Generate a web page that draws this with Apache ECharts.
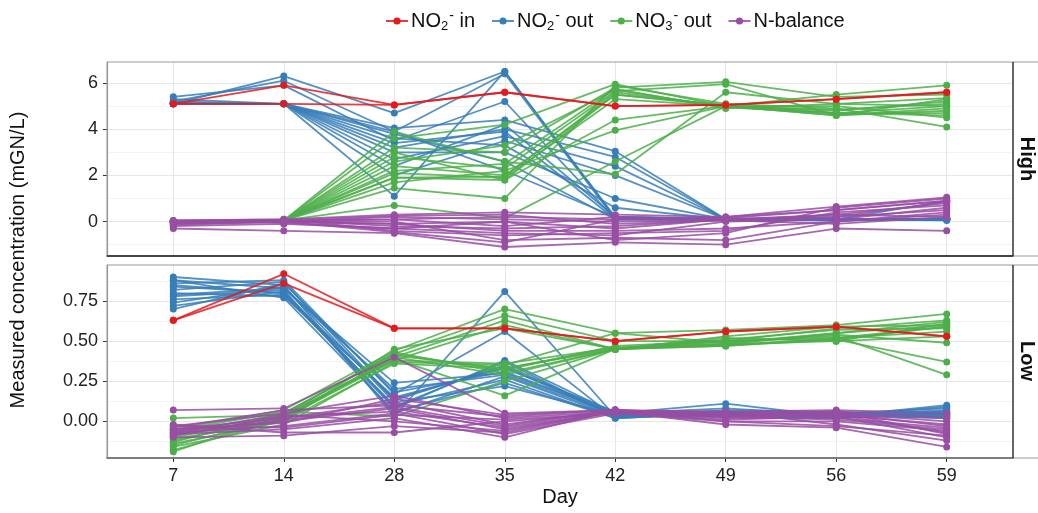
<!DOCTYPE html>
<html>
<head>
<meta charset="utf-8">
<script src="https://cdn.jsdelivr.net/npm/echarts@6/dist/echarts.min.js"></script>
<style>
html, body { margin: 0; padding: 0; background: #fff; }
#chart { width: 1038px; height: 513px; }
</style>
</head>
<body>
<div id="chart"></div>
<script>
// days on the x axis (discrete)
var days = ['7', '14', '28', '35', '42', '49', '56', '59'];
var dayIdx = [0, 1, 2, 3, 4, 5, 6, 7];

// y ticks per facet
var highTicks = [0, 2, 4, 6];
var highMinor = [-1, 1, 3, 5];
var lowTicks = [0, 0.25, 0.5, 0.75];
var lowMinor = [-0.125, 0.125, 0.375, 0.625, 0.875];

// ---- High facet ----
var highIn = [
  [5.1, 5.9, 5.05, 5.6, 5.0, 5.05, 5.3, 5.6],
  [5.1, 5.1, 5.05, 5.6, 5.0, 5.05, 5.3, 5.6]
];
var highNo2Out = [
  [5.1, 6.3, 4.7, 6.5, 0.15, 0.1, 0.1, 0.9],
  [5.2, 6.1, 3.9, 6.4, 0.1, 0.05, 0.05, 0.1],
  [5.4, 5.9, 3.5, 5.2, 0.1, 0.1, 0.1, 0.1],
  [5.1, 5.1, 1.1, 6.5, 0.2, 0.1, 0.1, 0.1],
  [5.1, 5.1, 4.05, 4.4, 3.05, 0.1, 0.1, 0.1],
  [5.15, 5.1, 3.2, 4.0, 2.8, 0.1, 0.1, 0.1],
  [5.1, 5.1, 2.7, 3.7, 2.4, 0.1, 0.1, 0.1],
  [5.2, 5.1, 3.6, 3.3, 0.6, 0.1, 0.1, 0.05],
  [5.1, 5.1, 3.0, 3.0, 1.0, 0.1, 0.1, 0.1],
  [5.1, 5.1, 2.4, 4.2, 0.2, 0.15, 0.1, 0.1],
  [5.3, 5.1, 3.8, 2.6, 0.1, 0.1, 0.1, 0.1],
  [5.1, 5.1, 2.0, 3.5, 2.0, 0.1, 0.1, 0.1],
  [5.1, 5.1, 3.4, 3.9, 0.1, 0.1, 0.1, 0.1],
  [5.1, 5.1, 3.9, 2.2, 0.2, 0.1, 0.05, 0.1]
];
var highNo3Out = [
  [0, 0.05, 3.6, 4.2, 5.95, 5.0, 5.5, 5.9],
  [0, 0.05, 3.2, 3.0, 5.8, 6.05, 5.4, 5.5],
  [0, 0.05, 2.8, 2.3, 5.65, 5.95, 4.6, 5.3],
  [0, 0.05, 2.4, 2.0, 5.5, 5.0, 4.85, 5.1],
  [0, 0.05, 2.1, 1.9, 5.3, 5.0, 4.6, 4.9],
  [0, 0.05, 1.9, 1.8, 4.4, 5.0, 4.7, 4.7],
  [0, 0.05, 1.7, 2.2, 3.95, 5.0, 5.0, 4.5],
  [0, 0.05, 1.45, 1.0, 5.9, 5.1, 4.9, 4.1],
  [0, 0.05, 0.7, 0.15, 2.6, 5.0, 4.8, 5.2],
  [0, 0.05, 3.9, 2.6, 2.05, 5.6, 5.1, 5.0],
  [0, 0.05, 2.6, 3.3, 5.7, 4.95, 4.7, 4.6],
  [0, 0.05, 1.9, 1.95, 5.6, 5.0, 4.6, 4.8],
  [0, 0.05, 2.2, 2.5, 5.75, 4.9, 5.1, 5.35],
  [0, 0.05, 3.0, 1.8, 5.5, 5.05, 4.7, 5.0]
];
var highBal = [
  [0.05, 0.1, 0.3, 0.4, 0.3, 0.2, 0.65, 1.05],
  [0.0, 0.05, 0.1, 0.2, 0.1, 0.15, 0.5, 0.9],
  [-0.1, 0.0, -0.1, 0.0, -0.3, 0.1, 0.3, 0.8],
  [-0.2, -0.1, -0.3, -0.5, -0.6, 0.0, 0.1, 0.6],
  [-0.3, -0.4, -0.5, -1.1, -0.9, -1.0, -0.3, -0.4],
  [0.0, 0.05, -0.2, -0.3, -0.2, 0.1, 0.2, 0.5],
  [-0.05, 0.0, 0.0, -0.8, -0.7, -0.8, 0.0, 0.3],
  [0.05, 0.1, -0.4, -0.6, -0.5, -0.4, 0.4, 0.7],
  [-0.1, 0.0, 0.2, 0.1, 0.0, 0.05, -0.1, 0.2],
  [0.0, -0.05, -0.3, 0.0, -0.8, -0.5, 0.6, 1.0],
  [-0.15, 0.0, 0.1, -0.2, 0.2, 0.1, 0.2, 0.85],
  [0.0, 0.0, -0.1, -0.4, -0.4, -0.3, 0.0, 0.4],
  [-0.05, 0.05, 0.25, 0.3, -0.1, 0.05, 0.3, 0.2],
  [0.0, 0.0, -0.45, -0.9, 0.1, 0.2, 0.5, 0.9]
];

// ---- Low facet ----
var lowIn = [
  [0.63, 0.92, 0.58, 0.58, 0.50, 0.56, 0.59, 0.53],
  [0.63, 0.86, 0.58, 0.58, 0.50, 0.56, 0.59, 0.53]
];
var lowNo2Out = [
  [0.90, 0.85, 0.03, 0.81, 0.03, 0.05, 0.04, 0.05],
  [0.88, 0.83, 0.24, 0.30, 0.05, 0.11, 0.03, 0.10],
  [0.86, 0.88, 0.17, 0.56, 0.02, 0.05, 0.05, 0.08],
  [0.84, 0.80, 0.08, 0.38, 0.05, 0.03, 0.03, 0.03],
  [0.82, 0.87, 0.13, 0.35, 0.04, 0.04, 0.02, 0.06],
  [0.80, 0.78, 0.15, 0.33, 0.06, 0.06, 0.04, 0.02],
  [0.78, 0.82, 0.05, 0.28, 0.03, 0.07, 0.06, 0.04],
  [0.76, 0.79, 0.10, 0.26, 0.02, 0.05, 0.03, 0.09],
  [0.74, 0.84, 0.12, 0.22, 0.04, 0.03, 0.05, 0.03],
  [0.72, 0.81, 0.09, 0.37, 0.03, 0.04, 0.02, 0.05],
  [0.70, 0.86, 0.18, 0.31, 0.05, 0.08, 0.04, 0.07],
  [0.88, 0.77, 0.06, 0.24, 0.02, 0.05, 0.03, 0.04],
  [0.79, 0.83, 0.20, 0.29, 0.04, 0.06, 0.05, 0.06],
  [0.85, 0.80, 0.14, 0.34, 0.03, 0.05, 0.04, 0.02]
];
var lowNo3Out = [
  [-0.05, 0.07, 0.44, 0.70, 0.55, 0.57, 0.60, 0.67],
  [-0.08, 0.05, 0.42, 0.66, 0.50, 0.50, 0.58, 0.63],
  [-0.10, 0.03, 0.40, 0.63, 0.45, 0.48, 0.55, 0.60],
  [-0.12, 0.02, 0.38, 0.60, 0.45, 0.47, 0.52, 0.59],
  [-0.14, 0.00, 0.45, 0.58, 0.45, 0.52, 0.50, 0.53],
  [-0.16, -0.02, 0.37, 0.35, 0.55, 0.49, 0.54, 0.49],
  [-0.18, 0.01, 0.41, 0.33, 0.45, 0.47, 0.51, 0.37],
  [-0.19, 0.04, 0.43, 0.30, 0.45, 0.50, 0.53, 0.29],
  [-0.06, 0.06, 0.03, 0.25, 0.45, 0.48, 0.50, 0.61],
  [-0.09, 0.03, 0.39, 0.16, 0.45, 0.51, 0.57, 0.58],
  [-0.11, 0.00, 0.36, 0.33, 0.46, 0.49, 0.55, 0.62],
  [-0.13, 0.05, 0.42, 0.32, 0.47, 0.50, 0.52, 0.56],
  [-0.15, 0.02, 0.40, 0.29, 0.45, 0.53, 0.59, 0.60],
  [0.02, 0.04, 0.38, 0.36, 0.46, 0.48, 0.51, 0.59]
];
var lowBal = [
  [0.07, 0.08, 0.40, 0.05, 0.07, 0.06, 0.07, 0.05],
  [-0.03, 0.05, 0.16, 0.02, 0.06, 0.05, 0.06, 0.02],
  [-0.05, 0.02, 0.12, -0.02, 0.07, 0.04, 0.05, 0.00],
  [-0.06, 0.00, 0.08, -0.05, 0.06, 0.03, 0.04, -0.02],
  [-0.07, -0.03, 0.05, -0.08, 0.05, 0.02, 0.02, -0.04],
  [-0.08, -0.05, 0.02, -0.10, 0.07, 0.00, 0.00, -0.06],
  [-0.10, -0.09, -0.03, -0.07, 0.06, -0.02, -0.04, -0.16],
  [-0.04, 0.07, 0.10, 0.03, 0.07, 0.05, 0.06, -0.08],
  [-0.02, -0.07, -0.07, 0.00, 0.05, 0.01, 0.03, -0.10],
  [-0.09, 0.03, 0.06, -0.04, 0.06, 0.06, -0.02, -0.12],
  [-0.05, -0.01, 0.14, 0.04, 0.07, 0.03, 0.01, -0.05],
  [-0.07, 0.04, 0.00, -0.06, 0.06, 0.04, 0.05, -0.03],
  [-0.03, -0.04, 0.04, 0.01, 0.05, 0.00, -0.03, -0.09],
  [-0.08, 0.01, 0.09, -0.03, 0.07, 0.05, 0.04, -0.07]
];

var names = ['NO2- in', 'NO2- out', 'NO3- out', 'N-balance'];
var colors = ['#E41A1C', '#377EB8', '#4DAF4A', '#984EA3'];
var legendText = {
  'NO2- in': 'NO{sub|2}{sup|-} in',
  'NO2- out': 'NO{sub|2}{sup|-} out',
  'NO3- out': 'NO{sub|3}{sup|-} out',
  'N-balance': 'N-balance'
};

var font = 'Liberation Sans, Arial, sans-serif';
var chart = echarts.init(document.getElementById('chart'));

var series = [];
function addLines(rows, k, g) {
  rows.forEach(function (row) {
    series.push({
      name: names[k],
      type: 'line',
      xAxisIndex: g,
      yAxisIndex: g * 2,
      data: row.map(function (v, i) { return [dayIdx[i], v]; }),
      symbol: 'circle',
      symbolSize: 7,
      showSymbol: true,
      color: colors[k],
      lineStyle: { width: 1.8, opacity: 0.85 },
      itemStyle: { color: colors[k] },
      emphasis: { disabled: true },
      silent: true
    });
  });
}
// draw order: out lines first, balance, then the inflow on top
addLines(highNo2Out, 1, 0); addLines(highNo3Out, 2, 0); addLines(highBal, 3, 0); addLines(highIn, 0, 0);
addLines(lowNo2Out, 1, 1); addLines(lowNo3Out, 2, 1); addLines(lowBal, 3, 1); addLines(lowIn, 0, 1);

var gridCol = '#e6e6e6', minorCol = '#f3f3f3';

function xAxis(g, showLabels) {
  return {
    type: 'value', gridIndex: g, min: -0.6, max: 7.6,
    axisLine: { show: true, onZero: false, lineStyle: { color: '#333', width: 1.5 } },
    axisTick: { show: showLabels, customValues: dayIdx, length: 4, lineStyle: { color: '#333' } },
    axisLabel: { show: showLabels, customValues: dayIdx, margin: 9, fontSize: 18, color: '#222', fontFamily: font,
      formatter: function (v) { return days[v]; } },
    splitLine: { show: true, lineStyle: { color: gridCol, width: 1 } },
    name: showLabels ? 'Day' : '', nameLocation: 'middle', nameGap: 29,
    nameTextStyle: { fontSize: 20, color: '#111', fontFamily: font }
  };
}
function yAxis(g, mn, mx, ticks, fmt) {
  return {
    type: 'value', gridIndex: g, min: mn, max: mx,
    axisLine: { show: true, onZero: false, lineStyle: { color: '#999', width: 1.2 } },
    axisTick: { show: true, customValues: ticks, length: 4, lineStyle: { color: '#333' } },
    axisLabel: { customValues: ticks, margin: 9, fontSize: 18, color: '#222', fontFamily: font, formatter: fmt },
    splitLine: { show: true, lineStyle: { color: gridCol, width: 1 } }
  };
}
function minorAxis(g, mn, mx, ticks) {
  return {
    type: 'value', gridIndex: g, min: mn, max: mx,
    axisLine: { show: false }, axisLabel: { show: false, customValues: ticks },
    axisTick: { show: false, customValues: ticks },
    splitLine: { show: true, lineStyle: { color: minorCol, width: 1 } }
  };
}

var option = {
  animation: false,
  backgroundColor: '#fff',
  legend: {
    data: names,
    left: 380, top: 4,
    itemWidth: 22, itemHeight: 9, itemGap: 16,
    selectedMode: false,
    formatter: function (n) { return legendText[n]; },
    textStyle: {
      fontSize: 20, color: '#111', fontFamily: font, padding: [0, 0, 0, -2],
      rich: {
        sub: { fontSize: 13, color: '#111', fontFamily: font, verticalAlign: 'bottom', padding: [10, 0, 0, 0] },
        sup: { fontSize: 14, color: '#111', fontFamily: font, verticalAlign: 'top', padding: [0, 0, 10, 1] }
      }
    }
  },
  grid: [
    { left: 107, top: 62, width: 906, height: 194, outerBoundsMode: 'none', containLabel: false },
    { left: 107, top: 265, width: 906, height: 193, outerBoundsMode: 'none', containLabel: false }
  ],
  xAxis: [xAxis(0, false), xAxis(1, true)],
  yAxis: [
    yAxis(0, -1.49, 6.91, highTicks, function (v) { return String(v); }),
    minorAxis(0, -1.49, 6.91, highMinor),
    yAxis(1, -0.229, 0.975, lowTicks, function (v) { return v.toFixed(2); }),
    minorAxis(1, -0.229, 0.975, lowMinor)
  ],
  graphic: [
    { type: 'rect', z: 100, silent: true, shape: { x: 107, y: 62, width: 945, height: 194 },
      style: { fill: null, stroke: '#999', lineWidth: 1 } },
    { type: 'rect', z: 100, silent: true, shape: { x: 107, y: 265, width: 945, height: 193 },
      style: { fill: null, stroke: '#999', lineWidth: 1 } },
    { type: 'line', z: 101, silent: true, shape: { x1: 1013, y1: 62, x2: 1013, y2: 256 },
      style: { stroke: '#333', lineWidth: 1.5 } },
    { type: 'line', z: 101, silent: true, shape: { x1: 1013, y1: 265, x2: 1013, y2: 458 },
      style: { stroke: '#333', lineWidth: 1.5 } },
    { type: 'line', z: 101, silent: true, shape: { x1: 107, y1: 256, x2: 1013, y2: 256 },
      style: { stroke: '#333', lineWidth: 1.5 } },
    { type: 'text', z: 101, silent: true, x: 1027, y: 159, rotation: -Math.PI / 2,
      style: { text: 'High', fontSize: 20, fontWeight: 'bold', fill: '#111', fontFamily: font, align: 'center', verticalAlign: 'middle' } },
    { type: 'text', z: 101, silent: true, x: 1027, y: 361, rotation: -Math.PI / 2,
      style: { text: 'Low', fontSize: 20, fontWeight: 'bold', fill: '#111', fontFamily: font, align: 'center', verticalAlign: 'middle' } },
    { type: 'text', z: 101, silent: true, x: 18, y: 260, rotation: Math.PI / 2,
      style: { text: 'Measured concentration (mGN/L)', fontSize: 20, fill: '#111', fontFamily: font, align: 'center', verticalAlign: 'middle' } }
  ],
  series: series
};

chart.setOption(option);
</script>
</body>
</html>
